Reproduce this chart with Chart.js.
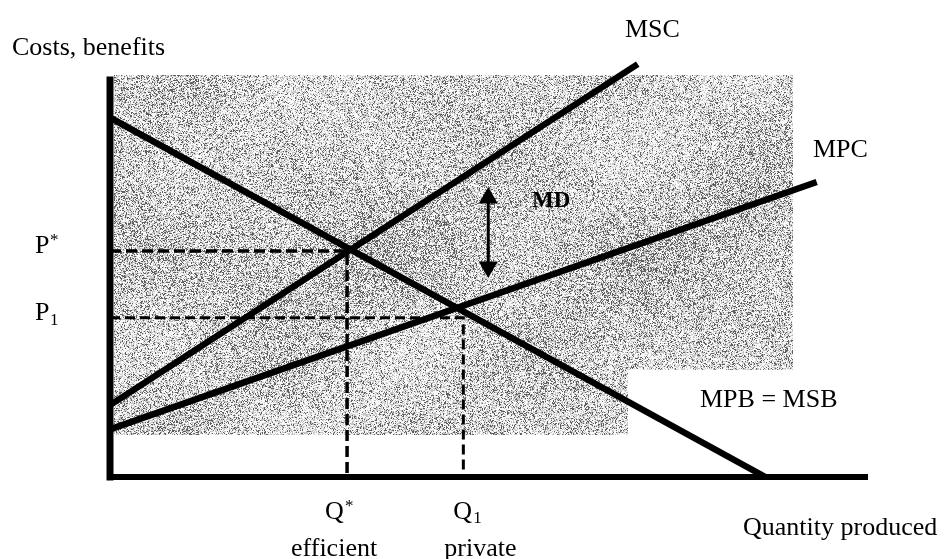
<!DOCTYPE html>
<html>
<head>
<meta charset="utf-8">
<script src="https://cdn.jsdelivr.net/npm/chart.js@4.4.1/dist/chart.umd.min.js"></script>
<style>
  html, body { margin: 0; padding: 0; background: #fff; }
  #wrap { width: 945px; height: 559px; position: relative; }
</style>
</head>
<body>
<div id="wrap"><canvas id="graficoExternalidade"></canvas></div>
<script>
// curves, start and end point (quantity, cost units)
const mscX = [0, 69.9];
const mscY = [18.1, 104];
const mpcX = [0, 93.6];
const mpcY = [12.0, 74.3];
const mpbX = [0, 86.8];
const mpbY = [90.5, 0];

// equilibria: efficient (*) and private (1)
const qValues = [31.4, 46.8];
const pValues = [56.9, 40.1];
const qMarks = ['*', '1'];
const pMarks = ['*', '1'];
const qNotes = ['efficient', 'private'];

// marginal damage arrow
const mdX = [50.1, 50.1];
const mdY = [70.3, 52.9];

const axisMax = 100;

const pts = (xs, ys) => xs.map((x, i) => ({ x: x, y: ys[i] }));
const FONT = '"Liberation Serif", "Times New Roman", serif';

// scanned grey texture behind the diagram
let noiseCanvas = null;
function makeNoise(w, h) {
  const c = document.createElement('canvas');
  c.width = w; c.height = h;
  const g = c.getContext('2d');
  const img = g.createImageData(w, h);
  for (let j = 0; j < h; j++) {
    for (let i = 0; i < w; i++) {
      const s = Math.sin(i * 12.9898 + j * 78.233) * 43758.5453;
      const r = s - Math.floor(s);
      const p = 0.18 + 0.05 * Math.sin(i / 37) * Math.cos(j / 29) + 0.04 * Math.sin((i + j) / 53)
        + 0.08 * Math.exp(-Math.pow((j - 180) / 70, 2));
      const v = r < p ? 95 : (r < p + 0.32 ? 195 : 248);
      const k = (j * w + i) * 4;
      img.data[k] = img.data[k + 1] = img.data[k + 2] = v;
      img.data[k + 3] = 255;
    }
  }
  g.putImageData(img, 0, 0);
  return c;
}

const fondo = {
  id: 'fondo',
  beforeDatasetsDraw(chart) {
    const { ctx, scales: { x, y } } = chart;
    const x0 = Math.round(x.getPixelForValue(0) + 4);
    const x1 = Math.round(x.getPixelForValue(90.5));
    const y0 = Math.round(y.getPixelForValue(101.3));
    const y1 = Math.round(y.getPixelForValue(10.6));
    if (!noiseCanvas) noiseCanvas = makeNoise(x1 - x0, y1 - y0);
    ctx.save();
    ctx.drawImage(noiseCanvas, x0, y0);
    ctx.fillStyle = '#fff';
    const bx = x.getPixelForValue(68.6), by = y.getPixelForValue(27);
    ctx.fillRect(bx, by, x1 - bx + 1, y1 - by + 1);
    ctx.restore();
  }
};

const textos = {
  id: 'textos',
  afterDatasetsDraw(chart) {
    const { ctx, scales: { x, y } } = chart;
    ctx.save();
    ctx.fillStyle = '#000';
    ctx.textBaseline = 'alphabetic';
    ctx.textAlign = 'left';
    ctx.font = '26px ' + FONT;
    ctx.fillText('Costs, benefits', 12, 55);
    ctx.fillText('MSC', 625, 37);
    ctx.fillText('MPC', 813, 157);
    ctx.fillText('MPB = MSB', 700, 407);
    ctx.fillText('Quantity produced', 743, 535);

    pValues.forEach((v, i) => {
      const py = y.getPixelForValue(v);
      ctx.font = '26px ' + FONT;
      ctx.fillText('P', 35, py + 2);
      ctx.font = '17px ' + FONT;
      ctx.fillText(pMarks[i], 50, pMarks[i] === '*' ? py - 6 : py + 7);
    });

    qValues.forEach((v, i) => {
      const px = x.getPixelForValue(v);
      const lx = i === 0 ? px - 22 : px - 10;
      ctx.font = '26px ' + FONT;
      ctx.textAlign = 'left';
      ctx.fillText('Q', lx, 519);
      ctx.font = '17px ' + FONT;
      ctx.fillText(qMarks[i], lx + 20, qMarks[i] === '*' ? 511 : 523);
      ctx.font = '26px ' + FONT;
      ctx.textAlign = 'center';
      ctx.fillText(qNotes[i], i === 0 ? px - 13 : px + 17, 556);
    });

    ctx.textAlign = 'left';
    ctx.font = 'bold 23px ' + FONT;
    ctx.fillText('MD', 532, 207);
    ctx.restore();
  }
};

const linha = (data, width, extra) => Object.assign({
  data: data,
  showLine: true,
  borderColor: '#000',
  borderWidth: width,
  pointRadius: 0,
  clip: false
}, extra || {});

const ctx = document.getElementById('graficoExternalidade').getContext('2d');

new Chart(ctx, {
  type: 'scatter',
  data: {
    datasets: [
      linha(pts([0, 0], [0, axisMax]), 7, { borderCapStyle: 'square' }),
      linha(pts([0, axisMax], [0, 0]), 6, { borderCapStyle: 'square' }),
      linha(pts([0, qValues[0], qValues[0]], [pValues[0], pValues[0], 0]), 3.5, { borderDash: [11, 5] }),
      linha(pts([0, qValues[1], qValues[1]], [pValues[1], pValues[1], 0]), 3, { borderDash: [10, 5] }),
      linha(pts(mscX, mscY), 6.5),
      linha(pts(mpcX, mpcY), 6.5),
      linha(pts(mpbX, mpbY), 6.5),
      linha(pts(mdX, mdY), 3, {
        pointStyle: 'triangle',
        pointRadius: 11,
        pointRotation: [0, 180],
        pointBackgroundColor: '#000',
        pointBorderColor: '#000',
        pointBorderWidth: 0
      })
    ]
  },
  options: {
    responsive: true,
    maintainAspectRatio: false,
    animation: false,
    layout: { padding: { left: 110, right: 80, top: 80, bottom: 82 } },
    plugins: {
      legend: { display: false },
      tooltip: { enabled: false }
    },
    scales: {
      x: { type: 'linear', min: 0, max: axisMax, display: false },
      y: { type: 'linear', min: 0, max: axisMax, display: false }
    }
  },
  plugins: [fondo, textos]
});
</script>
</body>
</html>
